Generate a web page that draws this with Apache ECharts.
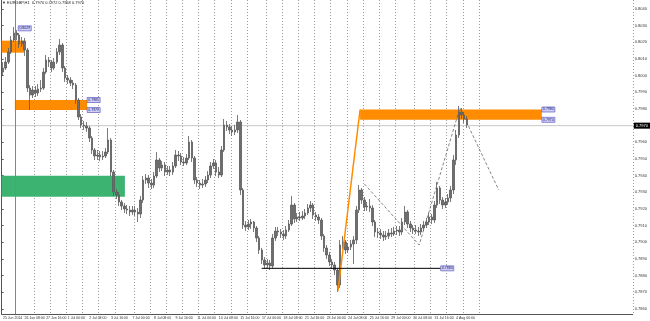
<!DOCTYPE html>
<html><head><meta charset="utf-8">
<script src="https://cdn.jsdelivr.net/npm/echarts@6/dist/echarts.min.js"></script>
<style>html,body{margin:0;padding:0;background:#fff}#c{width:650px;height:321px}</style>
</head><body><div id="c"></div>
<script>
// ---------- DATA ----------
const titleText = '\u25BC EURGBP,H1  0.7970 0.7972 0.7968 0.7970';
const xLabels = ['25 Jun 2014','26 Jun 08:00','27 Jun 16:00','1 Jul 00:00','2 Jul 08:00','3 Jul 16:00','7 Jul 00:00','8 Jul 08:00','9 Jul 16:00','11 Jul 00:00','14 Jul 08:00','15 Jul 16:00','17 Jul 00:00','18 Jul 08:00','21 Jul 16:00','23 Jul 00:00','24 Jul 08:00','25 Jul 16:00','29 Jul 00:00','30 Jul 08:00','31 Jul 16:00','4 Aug 00:00'];
const yTicks = [0.786,0.787,0.788,0.789,0.790,0.791,0.792,0.793,0.794,0.795,0.796,0.797,0.798,0.799,0.800,0.801,0.802,0.803,0.804];
const firstOpen = 0.80022;
const closes = [
0.80046,0.80082,0.80142,0.80214,0.80256,0.80244,0.80190,0.80208,0.80154,0.79926,
0.79884,0.79914,0.79896,0.79920,0.79926,0.80022,0.80094,0.80082,0.80046,0.80082,
0.80142,0.80184,0.80046,0.79986,0.79974,0.79956,0.79944,0.79854,0.79752,0.79704,
0.79698,0.79686,0.79626,0.79554,0.79518,0.79524,0.79512,0.79518,0.79542,0.79614,
0.79422,0.79302,0.79284,0.79242,0.79218,0.79200,0.79194,0.79182,0.79194,0.79182,
0.79170,0.79254,0.79374,0.79386,0.79356,0.79344,0.79398,0.79494,0.79446,0.79464,
0.79422,0.79434,0.79422,0.79458,0.79524,0.79518,0.79482,0.79476,0.79506,0.79602,
0.79506,0.79374,0.79356,0.79344,0.79350,0.79374,0.79404,0.79458,0.79476,0.79422,
0.79404,0.79554,0.79704,0.79692,0.79674,0.79662,0.79674,0.79722,0.79314,0.79104,
0.79092,0.79110,0.79122,0.79086,0.79026,0.78954,0.78894,0.78864,0.78876,0.78858,
0.79026,0.79068,0.79062,0.79050,0.79038,0.79074,0.79110,0.79224,0.79140,0.79152,
0.79146,0.79158,0.79176,0.79206,0.79224,0.79164,0.79152,0.79134,0.79038,0.78966,
0.78924,0.78882,0.78864,0.78834,0.78744,0.78984,0.79002,0.78954,0.78972,0.78990,
0.79014,0.79194,0.79314,0.79254,0.79212,0.79218,0.79206,0.79122,0.79062,0.79056,
0.79044,0.79032,0.79038,0.79056,0.79050,0.79068,0.79074,0.79062,0.79122,0.79182,
0.79110,0.79086,0.79074,0.79068,0.79062,0.79086,0.79104,0.79122,0.79152,0.79134,
0.79224,0.79326,0.79254,0.79224,0.79242,0.79266,0.79314,0.79494,0.79644,0.79782,
0.79764,0.79740,0.79704];
const highs = [
0.80082,0.80112,0.80166,0.80238,0.80292,0.80274,0.80256,0.80232,0.80226,0.80166,
0.79944,0.79938,0.79938,0.79950,0.79974,0.80046,0.80124,0.80112,0.80094,0.80106,
0.80166,0.80220,0.80196,0.80058,0.80004,0.79992,0.79974,0.79956,0.79866,0.79770,
0.79728,0.79722,0.79698,0.79638,0.79566,0.79554,0.79548,0.79548,0.79566,0.79686,
0.79626,0.79434,0.79320,0.79302,0.79254,0.79236,0.79224,0.79218,0.79218,0.79218,
0.79206,0.79278,0.79398,0.79410,0.79404,0.79380,0.79422,0.79542,0.79506,0.79488,
0.79482,0.79458,0.79458,0.79482,0.79554,0.79548,0.79536,0.79512,0.79530,0.79638,
0.79614,0.79518,0.79392,0.79374,0.79380,0.79398,0.79428,0.79482,0.79500,0.79494,
0.79452,0.79578,0.79740,0.79728,0.79710,0.79698,0.79704,0.79764,0.79734,0.79326,
0.79128,0.79134,0.79140,0.79128,0.79098,0.79038,0.78966,0.78912,0.78900,0.78894,
0.79050,0.79092,0.79092,0.79080,0.79074,0.79098,0.79134,0.79278,0.79236,0.79176,
0.79182,0.79188,0.79200,0.79230,0.79248,0.79236,0.79182,0.79170,0.79146,0.79050,
0.78984,0.78942,0.78900,0.78882,0.78846,0.79014,0.79038,0.79014,0.78996,0.79014,
0.79038,0.79218,0.79344,0.79326,0.79272,0.79242,0.79260,0.79224,0.79134,0.79086,
0.79080,0.79068,0.79068,0.79080,0.79086,0.79092,0.79098,0.79098,0.79146,0.79218,
0.79194,0.79128,0.79104,0.79104,0.79092,0.79110,0.79128,0.79146,0.79176,0.79170,
0.79248,0.79362,0.79338,0.79272,0.79266,0.79290,0.79338,0.79524,0.79674,0.79818,
0.79806,0.79782,0.79758];
const lows = [
0.80004,0.80034,0.80070,0.80130,0.80202,0.80214,0.80166,0.80172,0.80118,0.79902,
0.79794,0.79866,0.79872,0.79878,0.79902,0.79914,0.80010,0.80052,0.80022,0.80034,
0.80070,0.80124,0.80022,0.79962,0.79950,0.79938,0.79920,0.79830,0.79734,0.79686,
0.79674,0.79662,0.79602,0.79530,0.79494,0.79494,0.79488,0.79494,0.79506,0.79530,
0.79398,0.79278,0.79260,0.79218,0.79194,0.79176,0.79170,0.79158,0.79164,0.79158,
0.79122,0.79146,0.79236,0.79350,0.79326,0.79320,0.79326,0.79386,0.79422,0.79428,
0.79398,0.79404,0.79398,0.79404,0.79446,0.79488,0.79464,0.79458,0.79464,0.79494,
0.79482,0.79350,0.79332,0.79320,0.79326,0.79332,0.79356,0.79386,0.79440,0.79398,
0.79386,0.79392,0.79542,0.79668,0.79650,0.79638,0.79644,0.79656,0.79284,0.79080,
0.79068,0.79074,0.79080,0.79062,0.79002,0.78930,0.78870,0.78840,0.78846,0.78834,
0.78846,0.79008,0.79038,0.79026,0.79014,0.79020,0.79062,0.79098,0.79116,0.79122,
0.79128,0.79134,0.79140,0.79164,0.79182,0.79140,0.79128,0.79110,0.79014,0.78942,
0.78900,0.78858,0.78840,0.78804,0.78702,0.78726,0.78960,0.78930,0.78936,0.78954,
0.78870,0.78990,0.79176,0.79230,0.79188,0.79188,0.79182,0.79098,0.79032,0.79026,
0.79020,0.79008,0.79014,0.79020,0.79032,0.79038,0.79044,0.79038,0.79044,0.79104,
0.79086,0.79062,0.79050,0.79050,0.79038,0.79044,0.79068,0.79086,0.79104,0.79110,
0.79116,0.79206,0.79230,0.79200,0.79206,0.79224,0.79242,0.79290,0.79464,0.79626,
0.79740,0.79716,0.79686];
const currentPrice = 0.7970;
// zones (time in bar units, price range)
const zoneFrom = [0, 4.9, 132.9, 0];
const zoneTo   = [8.36, 31.7, 200.3, 45.7];
const zoneHigh = [0.80210, 0.79854, 0.79797, 0.79400];
const zoneLow  = [0.80138, 0.79794, 0.79735, 0.79274];
const zoneKind = ['supply','supply','supply','demand'];
const greenLineX = 4.9;
// drawn lines
const trendX = [124.7, 132.9];
const trendP = [0.78708, 0.79797];
const zigX = [134.5, 154.8, 169.9, 184.3];
const zigP = [0.79350, 0.78984, 0.79806, 0.79314];
const supportX = [96.4, 162.8];
const supportP = 0.78844;
// price tags
const tagX = [6.15, 31.7, 31.7, 200.3, 200.3, 162.8];
const tagP = [0.80284, 0.79854, 0.79794, 0.79797, 0.79735, 0.78844];
const tagText = ['0.8029', '0.7985', '0.7979', '0.7980', '0.7974', '0.7884'];

// ---------- CHART ----------
const N = 234;
const cats = Array.from({length: N}, (_, i) => String(i));
const opens = [firstOpen].concat(closes.slice(0, -1));
const ohlc = closes.map((c, i) => [opens[i], c, lows[i], highs[i]]);
const gridStep = 6.117;
const gridIdx = [];
for (let k = 2; k <= 29; k++) gridIdx.push(Math.round(k * gridStep - 0.33));
const zoneColors = {supply: '#ff8c00', demand: '#3cb371'};

const chart = echarts.init(document.getElementById('c'), null, {renderer: 'canvas'});
chart.setOption({
  animation: false,
  backgroundColor: '#ffffff',
  textStyle: {fontFamily: 'Liberation Sans, DejaVu Sans, sans-serif'},
  title: {text: titleText, left: 2, top: 1, padding: 0,
    textStyle: {fontSize: 4, fontWeight: 'normal', color: '#222'}},
  grid: {left: 0, right: 15, top: 0, bottom: 7},
  xAxis: [
    {type: 'category', data: cats, boundaryGap: true,
     axisLine: {show: true, lineStyle: {color: '#555', width: 1}},
     axisTick: {show: false},
     axisLabel: {
       interval: (i) => i % 8 === 0 && i / 8 < xLabels.length,
       formatter: (v, i) => xLabels[i / 8] || '',
       fontSize: 3.5, color: '#333', align: 'left', margin: 2},
     splitLine: {show: true, interval: (i) => gridIdx.indexOf(i) >= 0,
       lineStyle: {color: '#9a9a9a', width: 1, type: [1, 2]}}
    },
    {type: 'value', min: 0, max: N, show: false}
  ],
  yAxis: {type: 'value', position: 'right', min: 0.7857, max: 0.80454,
    axisLine: {show: true, lineStyle: {color: '#555', width: 1}},
    axisTick: {show: true, length: 2, customValues: yTicks, lineStyle: {color: '#555'}},
    axisLabel: {customValues: yTicks, formatter: (v) => v.toFixed(4), fontSize: 4, color: '#333', margin: 2},
    splitLine: {show: false}
  },
  series: [
    {type: 'custom', xAxisIndex: 1, yAxisIndex: 0, z: 1, silent: true,
     data: zoneFrom.map((f, i) => [f, zoneTo[i], zoneHigh[i], zoneLow[i]]),
     encode: {x: [0, 1], y: [2, 3]},
     renderItem: (params, api) => {
       const a = api.coord([api.value(0), api.value(2)]);
       const b = api.coord([api.value(1), api.value(3)]);
       return {type: 'rect', shape: {x: a[0], y: a[1], width: b[0] - a[0], height: b[1] - a[1]},
         style: {fill: zoneColors[zoneKind[params.dataIndex]]}};
     },
     markLine: {silent: true, symbol: 'none', label: {show: false},
       lineStyle: {color: '#35b368', width: 1, type: 'solid'},
       data: [{xAxis: greenLineX}]}
    },
    {type: 'candlestick', xAxisIndex: 0, yAxisIndex: 0, z: 3, data: ohlc, barWidth: 2,
     itemStyle: {color: '#6e6e6e', color0: '#6e6e6e', borderColor: '#5a5a5a', borderColor0: '#5a5a5a', borderWidth: 0.8}
    },
    {type: 'line', xAxisIndex: 1, yAxisIndex: 0, z: 2, symbol: 'none', silent: true,
     data: [[0, currentPrice], [N, currentPrice]],
     lineStyle: {color: '#c8c8c8', width: 1},
     endLabel: {show: true, formatter: currentPrice.toFixed(4), backgroundColor: '#000',
       color: '#fff', fontSize: 4, padding: [1, 2], distance: 1}
    },
    {type: 'line', xAxisIndex: 1, yAxisIndex: 0, z: 4, symbol: 'none', silent: true,
     data: trendX.map((x, i) => [x, trendP[i]]),
     lineStyle: {color: '#ff8c00', width: 1.5}},
    {type: 'line', xAxisIndex: 1, yAxisIndex: 0, z: 4, symbol: 'none', silent: true,
     data: zigX.map((x, i) => [x, zigP[i]]),
     lineStyle: {color: '#666', width: 0.8, type: [3, 2]}},
    {type: 'line', xAxisIndex: 1, yAxisIndex: 0, z: 4, symbol: 'none', silent: true,
     data: supportX.map((x) => [x, supportP]),
     lineStyle: {color: '#000', width: 1}},
    {type: 'scatter', xAxisIndex: 1, yAxisIndex: 0, z: 5, silent: true,
     data: tagX.map((x, i) => [x, tagP[i]]),
     symbol: 'rect', symbolSize: [13, 5], symbolOffset: ['50%', 0],
     itemStyle: {color: '#cfcff5', borderColor: '#5555c0', borderWidth: 0.6, opacity: 1},
     label: {show: true, position: 'inside', fontSize: 3.5, color: '#202070',
       formatter: (p) => tagText[p.dataIndex]}}
  ]
});
</script></body></html>
